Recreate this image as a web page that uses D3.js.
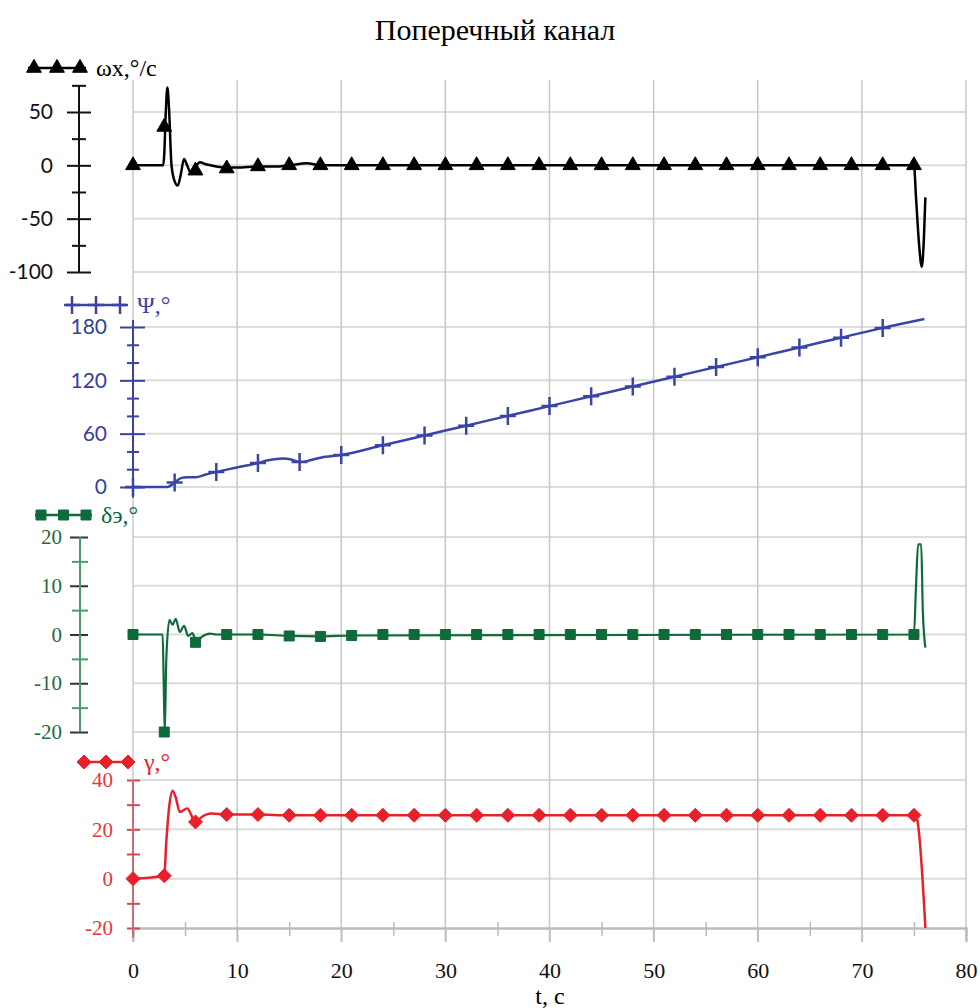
<!DOCTYPE html>
<html>
<head>
<meta charset="utf-8" />
<title>Поперечный канал</title>
<script src="https://d3js.org/d3.v7.min.js"></script>
<style>
  body { margin: 0; background: #fff; }
</style>
</head>
<body>
<svg width="980" height="1008"></svg>
<script>
// ---- data ----
var tTicks = [0, 10, 20, 30, 40, 50, 60, 70, 80];
var tMinor = [5, 15, 25, 35, 45, 55, 65, 75];

// omega_x, deg/s
var omegaT = [0, 2.9, 3.0, 3.15, 3.3, 3.45, 3.7, 4.0, 4.3, 4.6, 4.9, 5.2, 5.6, 6.0, 6.4, 7.0, 8.0, 9.0, 10, 12, 14, 15, 16.7, 18, 20, 30, 40, 50, 60, 70, 75, 75.2, 75.5, 75.75, 75.95, 76.1];
var omegaV = [0, 0, 10, 50, 73, 55, 0, -15, -19, -8, 6, 0, -8, -2, 3, 1, -1, -2, -2, -1, -1, 0, 2, 0, 0, 0, 0, 0, 0, 0, 0, -30, -75, -95, -70, -30];
var omegaMarkT = [0, 3, 6, 9, 12, 15, 18, 21, 24, 27, 30, 33, 36, 39, 42, 45, 48, 51, 54, 57, 60, 63, 66, 69, 72, 75];
var omegaMarkV = [0, 36, -5, -3, -1, 0, 0, 0, 0, 0, 0, 0, 0, 0, 0, 0, 0, 0, 0, 0, 0, 0, 0, 0, 0, 0];

// psi, deg
var psiT = [0, 3.3, 4, 4.6, 5.2, 6, 7, 8, 10, 12, 13, 14.4, 15.2, 16, 17, 18, 20, 24, 28, 32, 36, 40, 44, 48, 52, 56, 60, 64, 68, 72, 76];
var psiV = [0, 0, 5, 10, 11, 11, 14, 17, 22, 27, 30, 32, 31, 28, 30, 33, 36, 47, 58, 69, 80, 91, 102, 113, 124, 135, 146, 157, 168, 179, 189];
var psiMarkT = [0, 4, 8, 12, 16, 20, 24, 28, 32, 36, 40, 44, 48, 52, 56, 60, 64, 68, 72];
var psiMarkV = [0, 5, 17, 27, 28, 36, 47, 58, 69, 80, 91, 102, 113, 124, 135, 146, 157, 168, 179];

// delta_e, deg
var deltaT = [0, 2.85, 2.95, 3.05, 3.2, 3.5, 3.8, 4.1, 4.5, 4.9, 5.3, 5.7, 6.1, 6.6, 7.4, 8, 9, 12, 15, 18, 21, 75, 75.2, 75.4, 75.7, 75.85, 76.1];
var deltaV = [0, 0, -10, -20, -5, 3, 2, 3.2, 0.5, 1.8, -0.3, 0.3, -1.6, -0.5, 0.2, 0, 0, 0, -0.3, -0.4, -0.2, 0, 10, 18.5, 18.5, 5, -2.7];
var deltaMarkT = [0, 3, 6, 9, 12, 15, 18, 21, 24, 27, 30, 33, 36, 39, 42, 45, 48, 51, 54, 57, 60, 63, 66, 69, 72, 75];
var deltaMarkV = [0, -20, -1.6, 0, 0, -0.3, -0.4, -0.2, 0, 0, 0, 0, 0, 0, 0, 0, 0, 0, 0, 0, 0, 0, 0, 0, 0, 0];

// gamma, deg
var gammaT = [0, 3, 3.2, 3.5, 3.8, 4.1, 4.5, 5.2, 6, 6.6, 7.5, 9, 12, 15, 18, 21, 75, 75.3, 76.1];
var gammaV = [0, 1.2, 15, 30, 35.6, 33, 27, 28.4, 23, 25, 26.4, 26, 26, 25.7, 25.7, 25.7, 25.7, 24, -20];
var gammaMarkT = [0, 3, 6, 9, 12, 15, 18, 21, 24, 27, 30, 33, 36, 39, 42, 45, 48, 51, 54, 57, 60, 63, 66, 69, 72, 75];
var gammaMarkV = [0, 1.2, 23, 26, 26, 25.7, 25.7, 25.7, 25.7, 25.7, 25.7, 25.7, 25.7, 25.7, 25.7, 25.7, 25.7, 25.7, 25.7, 25.7, 25.7, 25.7, 25.7, 25.7, 25.7, 25.7];

var omegaTicks = [50, 0, -50, -100], omegaMinor = [75, 25, -25, -75];
var psiTicks = [180, 120, 60, 0], psiMinor = [160, 140, 100, 80, 40, 20];
var deltaTicks = [20, 10, 0, -10, -20], deltaMinor = [15, 5, -5, -15];
var gammaTicks = [40, 20, 0, -20], gammaMinor = [30, 10, -10];

function zip(ts, vs) { return ts.map(function (t, i) { return { t: t, v: vs[i] }; }); }
function plain(d) { return String(d); } // hyphen minus like the original

// ---- scales ----
var svg = d3.select("svg");
var x = d3.scaleLinear().domain([0, 80]).range([133, 966]);
var yW = d3.scaleLinear().domain([-100, 50]).range([272, 112]);
var yP = d3.scaleLinear().domain([0, 180]).range([487, 327]);
var yD = d3.scaleLinear().domain([-20, 20]).range([732, 537]);
var yG = d3.scaleLinear().domain([-20, 40]).range([928, 780]);

// title
svg.append("text")
    .attr("x", 495).attr("y", 40)
    .attr("text-anchor", "middle")
    .style("font-family", "Liberation Serif")
    .style("font-size", "30px")
    .text("Поперечный канал");

// ---- grid ----
var grid = svg.append("g");
grid.selectAll(".hg")
    .data([].concat(
        omegaTicks.map(function (d) { return yW(d); }),
        psiTicks.map(function (d) { return yP(d); }),
        deltaTicks.map(function (d) { return yD(d); }),
        gammaTicks.slice(0, 3).map(function (d) { return yG(d); })))
    .enter().append("line")
    .attr("x1", x(0)).attr("x2", x(80))
    .attr("y1", function (d) { return d; }).attr("y2", function (d) { return d; })
    .attr("stroke", "#dcdcdc").attr("stroke-width", 2);

grid.selectAll(".vg")
    .data(tTicks).enter().append("line")
    .attr("x1", function (d) { return x(d); }).attr("x2", function (d) { return x(d); })
    .attr("y1", 80).attr("y2", 942)
    .attr("stroke", "#c8c8c8").attr("stroke-width", 1.5);

// x axis
var xAxis = svg.append("g")
    .attr("transform", "translate(0," + yG(-20) + ")")
    .call(d3.axisBottom(x).tickValues(tTicks).tickSize(14).tickPadding(20).tickFormat(plain));
var xMinor = svg.append("g")
    .attr("transform", "translate(0," + yG(-20) + ")")
    .call(d3.axisBottom(x).tickValues(tMinor).tickSize(8).tickFormat(""));
xMinor.selectAll("line").attr("y1", -6);
[xAxis, xMinor].forEach(function (a) {
    a.select(".domain").attr("stroke", "#bbbbbb").attr("stroke-width", 2);
    a.selectAll("line").attr("stroke", "#bbbbbb").attr("stroke-width", 1.5);
});
xAxis.selectAll("text")
    .style("font-family", "Liberation Serif").style("font-size", "22px").attr("fill", "#111");

svg.append("text")
    .attr("x", 550).attr("y", 1004)
    .attr("text-anchor", "middle")
    .style("font-family", "Liberation Serif").style("font-size", "24px")
    .text("t, c");

// ---- left axes ----
function leftAxis(scale, ax, ticks, minor, o) {
    var g = svg.append("g").attr("transform", "translate(" + ax + ",0)");
    g.call(d3.axisLeft(scale).tickValues(ticks).tickSizeInner(o.out).tickSizeOuter(0)
        .tickPadding(o.pad).tickFormat(plain));
    g.select(".domain").remove();
    g.append("line")
        .attr("x1", 0).attr("x2", 0)
        .attr("y1", o.top).attr("y2", o.bottom)
        .attr("stroke", o.line).attr("stroke-width", 2);
    g.selectAll(".tick line").attr("x1", o.inn).attr("stroke", o.tick).attr("stroke-width", 2);
    g.selectAll(".tick text")
        .attr("fill", o.text)
        .style("font-family", o.font).style("font-size", "21px");
    var m = svg.append("g").attr("transform", "translate(" + ax + ",0)");
    m.call(d3.axisLeft(scale).tickValues(minor).tickSize(o.mout).tickFormat(""));
    m.select(".domain").remove();
    m.selectAll(".tick line").attr("x1", o.minn).attr("stroke", o.mtick).attr("stroke-width", 2);
}

leftAxis(yW, 79, omegaTicks, omegaMinor, {
    out: 12, inn: 12, pad: 14, mout: 7, minn: 7, top: yW(75), bottom: yW(-100),
    line: "#111", tick: "#111", mtick: "#111", text: "#111", font: "Lato"
});
leftAxis(yP, 133, psiTicks, psiMinor, {
    out: 13, inn: 12, pad: 13, mout: 6, minn: 6, top: yP(188), bottom: yP(-12),
    line: "#3a42a2", tick: "#3a42a2", mtick: "#3a42a2", text: "#3a3f96", font: "Lato"
});
leftAxis(yD, 80, deltaTicks, deltaMinor, {
    out: 10, inn: 8, pad: 8, mout: 8, minn: 8, top: yD(20), bottom: yD(-20),
    line: "#4e9a6c", tick: "#333", mtick: "#4e9a6c", text: "#1f6b3a", font: "Liberation Serif"
});
leftAxis(yG, 133, gammaTicks, gammaMinor, {
    out: 6, inn: 7, pad: 14, mout: 6, minn: 7, top: yG(40), bottom: yG(-24),
    line: "#d26a72", tick: "#d04850", mtick: "#d04850", text: "#e8363c", font: "Liberation Serif"
});

// ---- series ----
var sym = {
    tri: d3.symbol().type(d3.symbolTriangle).size(95)(),
    sq: d3.symbol().type(d3.symbolSquare).size(100)(),
    dia: "M0,-7L7,0L0,7L-7,0Z",
    cross: "M-8,0H8M0,-9V9"
};

function series(scale, ts, vs, mts, mvs, color, shape, lw) {
    var line = d3.line()
        .x(function (d) { return x(d.t); })
        .y(function (d) { return scale(d.v); })
        .curve(d3.curveMonotoneX);
    svg.append("path")
        .datum(zip(ts, vs))
        .attr("d", line)
        .attr("fill", "none").attr("stroke", color).attr("stroke-width", lw)
        .attr("stroke-linejoin", "round");
    svg.selectAll(null)
        .data(zip(mts, mvs)).enter().append("path")
        .attr("transform", function (d) { return "translate(" + x(d.t) + "," + scale(d.v) + ")"; })
        .attr("d", sym[shape])
        .attr("fill", shape === "cross" ? "none" : color)
        .attr("stroke", color).attr("stroke-width", shape === "cross" ? 2.5 : 1);
}

series(yW, omegaT, omegaV, omegaMarkT, omegaMarkV, "#000", "tri", 2.5);
series(yP, psiT, psiV, psiMarkT, psiMarkV, "#3a44a8", "cross", 2.5);
series(yD, deltaT, deltaV, deltaMarkT, deltaMarkV, "#0f6a3a", "sq", 2.2);
series(yG, gammaT, gammaV, gammaMarkT, gammaMarkV, "#e8202a", "dia", 2.5);

// ---- legends ----
function legend(x0, x1, y, color, shape, label, tx) {
    var g = svg.append("g");
    g.append("line").attr("x1", x0).attr("x2", x1).attr("y1", y).attr("y2", y)
        .attr("stroke", color).attr("stroke-width", 2.5);
    [x0 + 6, (x0 + x1) / 2, x1 - 6].forEach(function (px) {
        g.append("path")
            .attr("transform", "translate(" + px + "," + y + ")")
            .attr("d", sym[shape])
            .attr("fill", shape === "cross" ? "none" : color)
            .attr("stroke", color).attr("stroke-width", shape === "cross" ? 2.5 : 1);
    });
    g.append("text").attr("x", tx).attr("y", y + 8)
        .attr("fill", color)
        .style("font-family", "Liberation Serif").style("font-size", "24px")
        .text(label);
}
legend(28, 86, 68, "#000", "tri", "ωx,°/с", 96);
legend(66, 126, 305, "#3a44a8", "cross", "Ψ,°", 137);
legend(35, 92, 515, "#0f6a3a", "sq", "δэ,°", 101);
legend(78, 134, 762, "#e8202a", "dia", "γ,°", 144);
</script>
</body>
</html>
